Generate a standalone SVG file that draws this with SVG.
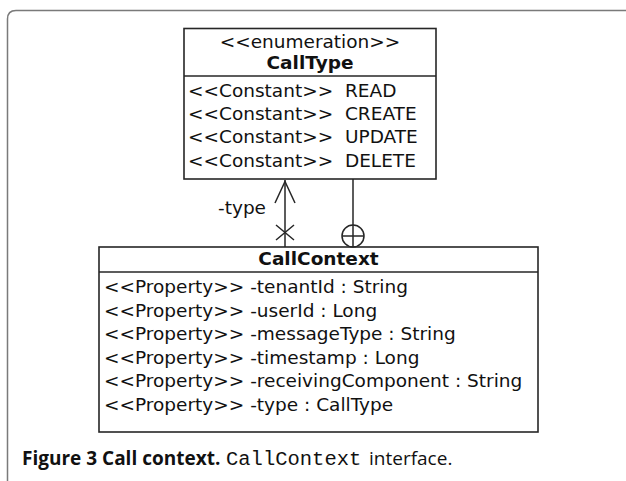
<svg xmlns="http://www.w3.org/2000/svg" width="626" height="481" viewBox="0 0 626 481">
  <style>
    .box { fill: #ffffff; stroke: #262626; stroke-width: 1.6; }
    .sep { stroke: #262626; stroke-width: 1.4; }
    .t { font-family: "DejaVu Sans", sans-serif; font-size: 18.5px; fill: #111111; white-space: pre; }
    .b { font-weight: bold; }
    .mid { text-anchor: middle; }
    .edge { fill: none; stroke: #262626; stroke-width: 1.5; }
    .cap { font-family: "Open Sans", "Liberation Sans", sans-serif; font-size: 19px; fill: #111111; }
    .mono { font-family: "Liberation Mono", "DejaVu Sans Mono", monospace; font-size: 20.5px; }
  </style>
  <rect width="626" height="481" fill="#ffffff"/>
  <!-- panel frame -->
  <path d="M7.5,481 V19 Q7.5,10.5 16,10.5 H626" fill="none" stroke="#7a7a7a" stroke-width="1.5"/>

  <g id="CallType">
    <rect class="box" x="184" y="28.5" width="252" height="150.5"/>
    <line class="sep" x1="184" y1="76" x2="436" y2="76"/>
    <text class="t mid" x="310" y="48">&lt;&lt;enumeration&gt;&gt;</text>
    <text class="t b mid" x="310" y="69">CallType</text>
    <text class="t" x="188" y="97" xml:space="preserve">&lt;&lt;Constant&gt;&gt;  READ</text>
    <text class="t" x="188" y="120" xml:space="preserve">&lt;&lt;Constant&gt;&gt;  CREATE</text>
    <text class="t" x="188" y="143" xml:space="preserve">&lt;&lt;Constant&gt;&gt;  UPDATE</text>
    <text class="t" x="188" y="167" xml:space="preserve">&lt;&lt;Constant&gt;&gt;  DELETE</text>
  </g>

  <g id="CallContext">
    <rect class="box" x="99" y="247" width="439" height="185"/>
    <line class="sep" x1="99" y1="272" x2="538" y2="272"/>
    <text class="t b mid" x="318.5" y="265">CallContext</text>
    <text class="t" x="104" y="293">&lt;&lt;Property&gt;&gt; -tenantId : String</text>
    <text class="t" x="104" y="317">&lt;&lt;Property&gt;&gt; -userId : Long</text>
    <text class="t" x="104" y="340">&lt;&lt;Property&gt;&gt; -messageType : String</text>
    <text class="t" x="104" y="364">&lt;&lt;Property&gt;&gt; -timestamp : Long</text>
    <text class="t" x="104" y="387">&lt;&lt;Property&gt;&gt; -receivingComponent : String</text>
    <text class="t" x="104" y="411">&lt;&lt;Property&gt;&gt; -type : CallType</text>
  </g>

  <g id="connectors">
    <!-- navigable association: CallContext -> CallType, role "-type" -->
    <line class="edge" x1="285" y1="180" x2="285" y2="247"/>
    <path class="edge" d="M275,203 L285,181.5 L295,203"/>
    <path class="edge" d="M276,225 L294,240 M294,225 L276,240"/>
    <text class="t" x="218" y="214">-type</text>
    <!-- containment: CallType nested in CallContext -->
    <line class="edge" x1="353" y1="179" x2="353" y2="247"/>
    <circle class="edge" cx="353" cy="236" r="11"/>
    <path class="edge" d="M342,236 H364"/>
  </g>

  <text class="cap" y="465"><tspan x="22" font-weight="bold">Figure 3 Call context.</tspan><tspan class="mono" x="226">CallContext</tspan><tspan x="369">interface.</tspan></text>
</svg>
